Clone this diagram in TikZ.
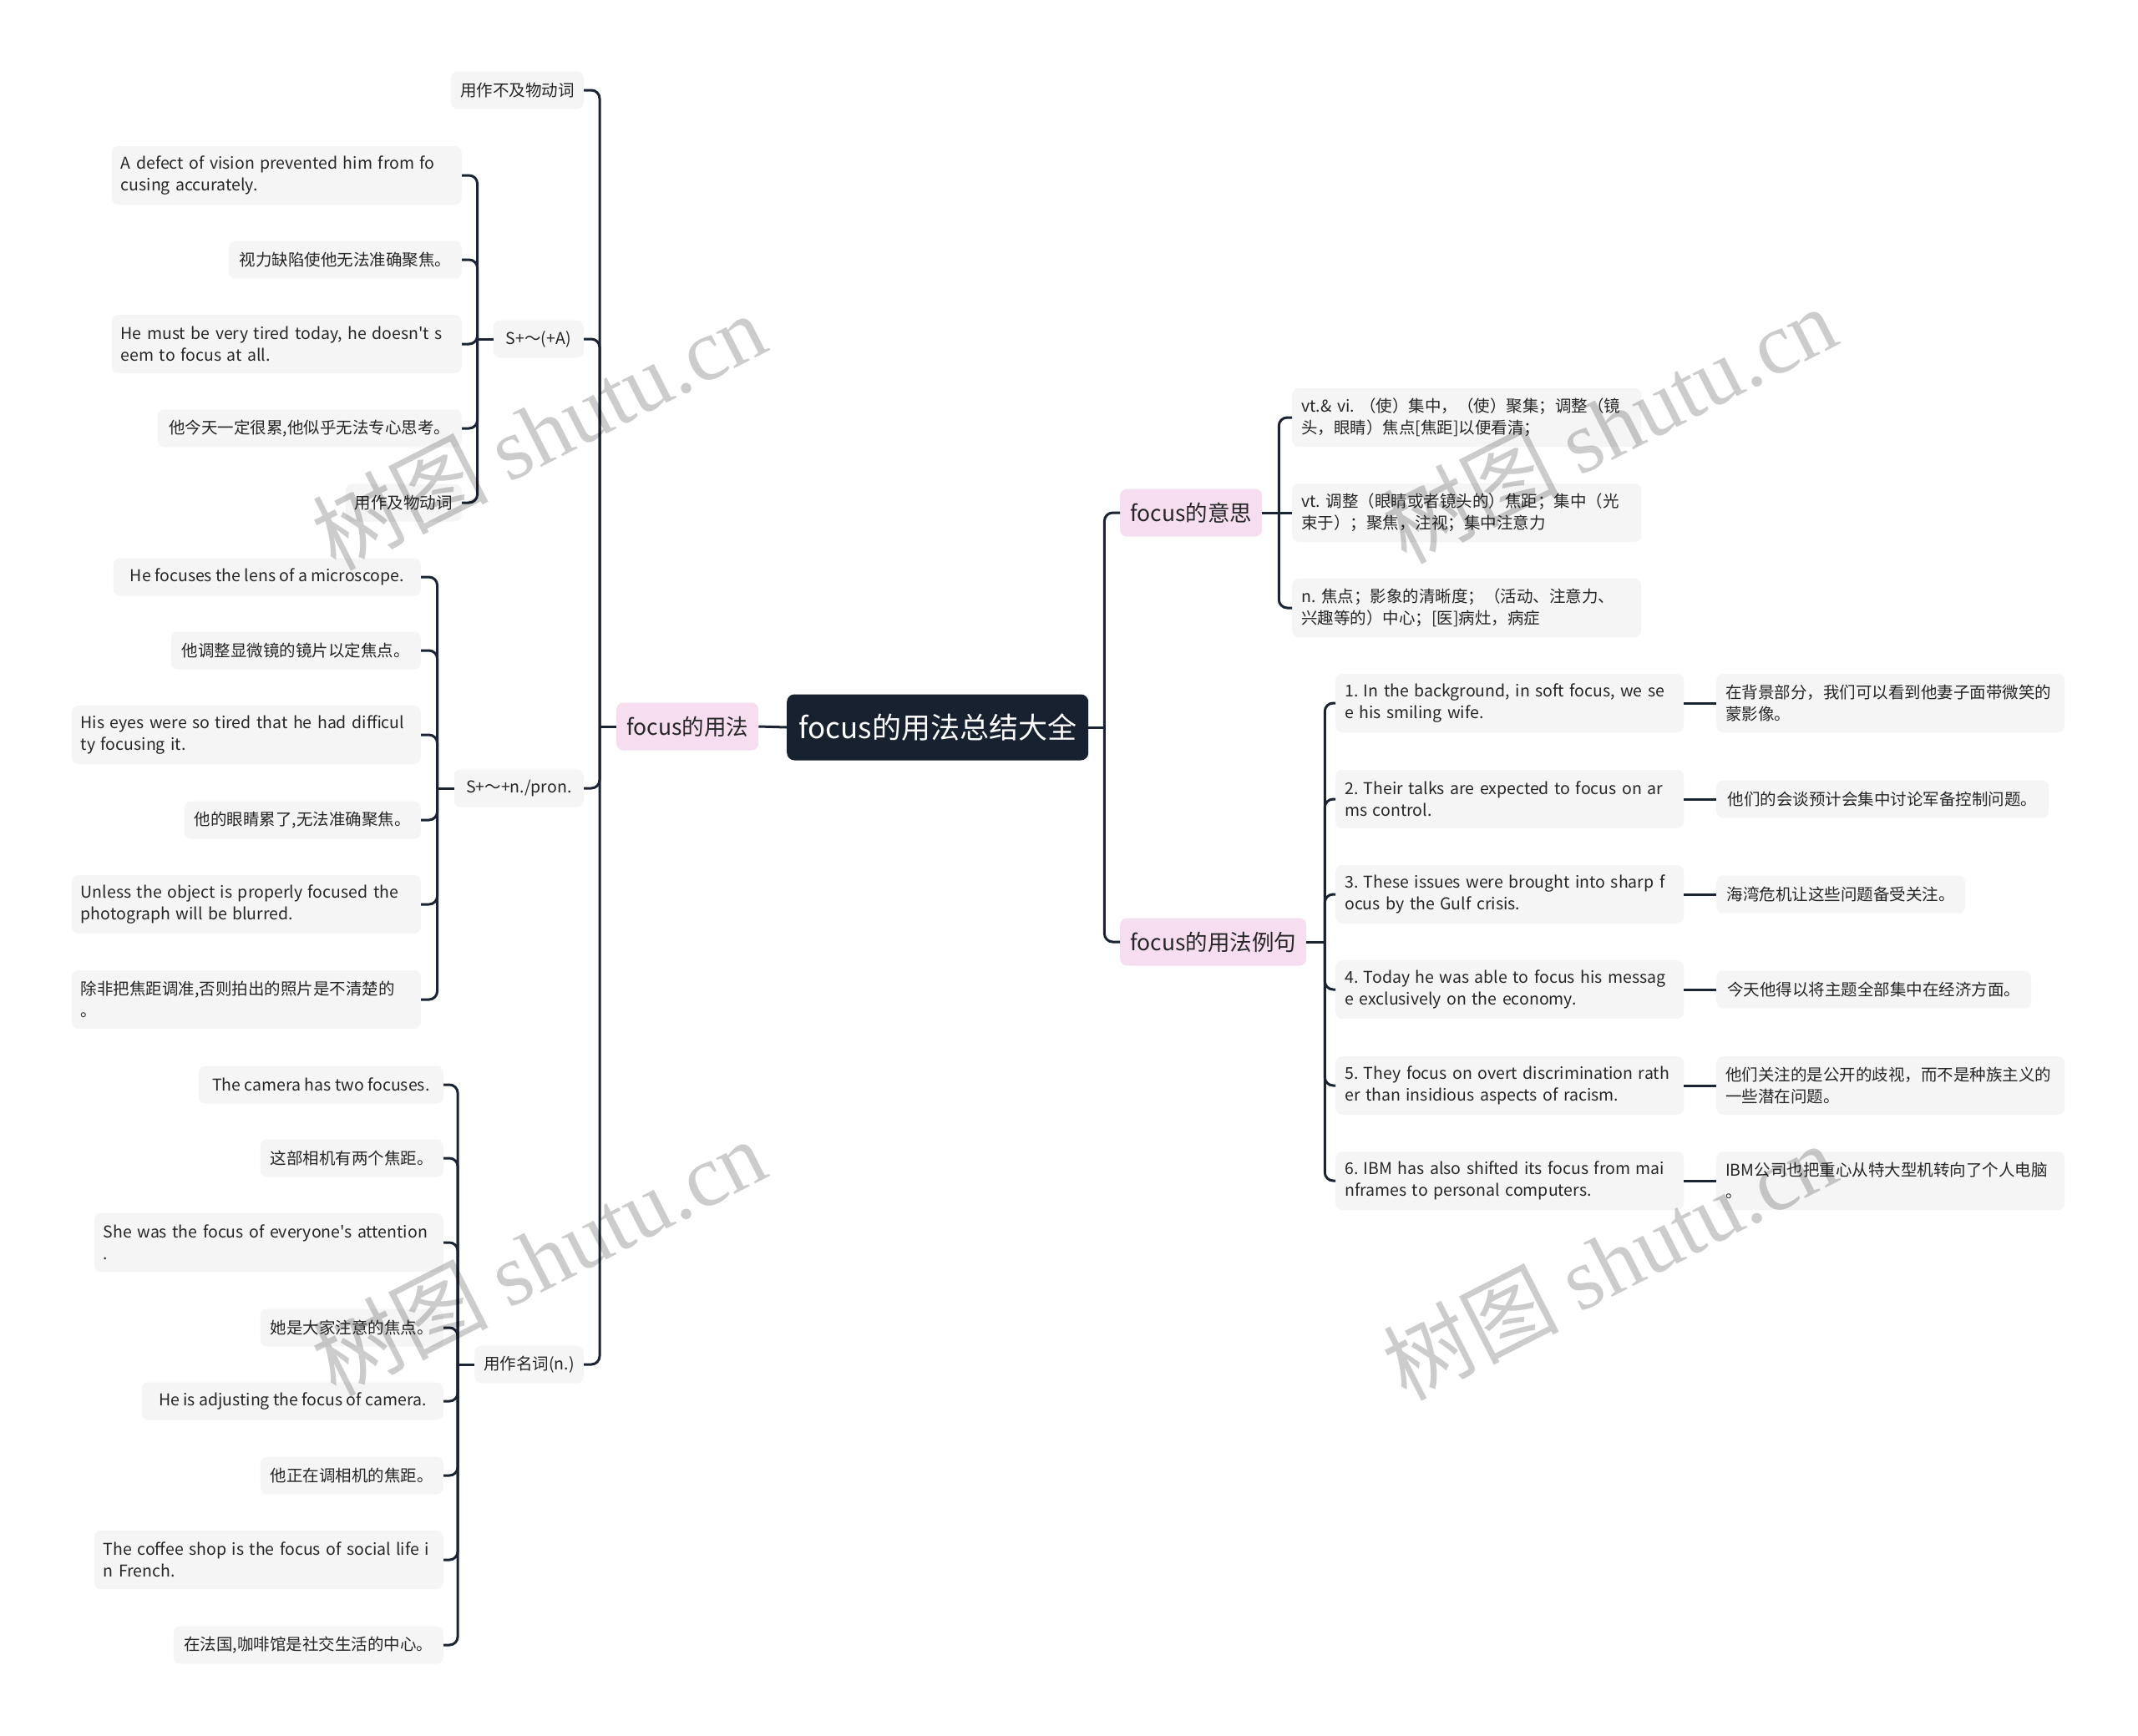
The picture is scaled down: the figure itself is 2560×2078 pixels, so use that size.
\documentclass[tikz,border=0pt]{standalone}
\usepackage{fontspec}
\setmainfont{Noto Sans CJK SC}[Ligatures=TeXOff]
\newfontfamily\wmserif{Liberation Serif}
\usetikzlibrary{calc}
\definecolor{linec}{HTML}{1B2432}
\definecolor{rootc}{HTML}{17212F}
\definecolor{pinkc}{HTML}{F6DEF0}
\definecolor{boxc}{HTML}{F5F5F5}
\definecolor{txtc}{HTML}{262626}
\frenchspacing
\tikzset{
  leaf/.style={fill=boxc, rounded corners=8pt, inner xsep=11pt, inner ysep=6pt,
    minimum height=45pt, text=txtc, font=\fontsize{19.5}{26}\selectfont,
    execute at begin node={\hyphenpenalty=10000\exhyphenpenalty=10000}},
  leaftwo/.style={leaf, minimum height=70pt, align=left, text width=#1},
  mainb/.style={fill=pinkc, rounded corners=8pt, minimum height=57pt, inner xsep=12pt,
    text=txtc, font=\fontsize{26.5}{32}\selectfont},
  rootb/.style={fill=rootc, rounded corners=9pt, minimum height=79pt, minimum width=361pt,
    text=white, font=\fontsize{35}{42}\selectfont},
  conn/.style={draw=linec, line width=3pt, rounded corners=10pt},
  wmark/.style={text=black, text opacity=0.2, rotate=27, inner sep=0pt,
    font=\fontsize{105}{105}\selectfont}
}
\begin{document}
\begin{tikzpicture}[x=1pt, y=-1pt]
\fill[white] (0,0) rectangle (2560,2078);
\useasboundingbox (0,0) rectangle (2560,2078);

% root and main branches
\node[rootb, anchor=west] (root) at (942,871) {focus的用法总结大全};
\node[mainb, anchor=west, minimum width=165pt] (use) at (738,870) {focus的用法};
\node[mainb, anchor=west, minimum width=168pt] (mean) at (1341,614) {focus的意思};
\node[mainb, anchor=west, minimum width=218pt] (exa) at (1341,1128) {focus的用法例句};

% left sub branches
\node[leaf, anchor=east, minimum width=159pt] (n1) at (699,108) {用作不及物动词};
\node[leaf, anchor=east, minimum width=108pt] (s1) at (699,406) {S+～(+A)};
\node[leaf, anchor=east, minimum width=155pt] (s2) at (699,944) {S+～+n./pron.};
\node[leaf, anchor=east, minimum width=130pt] (s3) at (699,1634) {用作名词(n.)};

% group 1
\node[leaftwo=397pt, anchor=east] (c11) at (553,210) {A defect of vision prevented him from fo\\cusing accurately.};
\node[leaf, anchor=east, minimum width=279pt] (c12) at (553,311) {视力缺陷使他无法准确聚焦。};
\node[leaftwo=397pt, anchor=east] (c13) at (553,412) {He must be very tired today, he doesn't s\\eem to focus at all.};
\node[leaf, anchor=east, minimum width=364pt] (c14) at (553,513) {他今天一定很累,他似乎无法专心思考。};
\node[leaf, anchor=east, minimum width=138pt] (c15) at (553,602) {用作及物动词};

% group 2
\node[leaf, anchor=east, minimum width=368pt] (c21) at (504,691) {He focuses the lens of a microscope.};
\node[leaf, anchor=east, minimum width=299pt] (c22) at (504,779) {他调整显微镜的镜片以定焦点。};
\node[leaftwo=396pt, anchor=east] (c23) at (504,880) {His eyes were so tired that he had difficul\\ty focusing it.};
\node[leaf, anchor=east, minimum width=283pt] (c24) at (504,982) {他的眼睛累了,无法准确聚焦。};
\node[leaftwo=396pt, anchor=east] (c25) at (504,1083) {Unless the object is properly focused the\\photograph will be blurred.};
\node[leaftwo=396pt, anchor=east] (c26) at (504,1197) {除非把焦距调准,否则拍出的照片是不清楚的\\。};

% group 3
\node[leaf, anchor=east, minimum width=293pt] (c31) at (531,1299) {The camera has two focuses.};
\node[leaf, anchor=east, minimum width=219pt] (c32) at (531,1387) {这部相机有两个焦距。};
\node[leaftwo=396pt, anchor=east] (c33) at (531,1488) {She was the focus of everyone's attention\\.};
\node[leaf, anchor=east, minimum width=219pt] (c34) at (531,1590) {她是大家注意的焦点。};
\node[leaf, anchor=east, minimum width=361pt] (c35) at (531,1678) {He is adjusting the focus of camera.};
\node[leaf, anchor=east, minimum width=219pt] (c36) at (531,1767) {他正在调相机的焦距。};
\node[leaftwo=396pt, anchor=east] (c37) at (531,1868) {The coffee shop is the focus of social life i\\n French.};
\node[leaf, anchor=east, minimum width=323pt] (c38) at (531,1970) {在法国,咖啡馆是社交生活的中心。};

% meanings
\node[leaftwo=396pt, anchor=west] (m1) at (1547,500) {vt.\& vi. （使）集中，（使）聚集；调整（镜\\头，眼睛）焦点[焦距]以便看清；};
\node[leaftwo=396pt, anchor=west] (m2) at (1547,614) {vt. 调整（眼睛或者镜头的）焦距；集中（光\\束于）；聚焦，注视；集中注意力};
\node[leaftwo=396pt, anchor=west] (m3) at (1547,728) {n. 焦点；影象的清晰度；（活动、注意力、\\兴趣等的）中心；[医]病灶，病症};

% examples
\node[leaftwo=395pt, anchor=west] (e1) at (1599,842) {1. In the background, in soft focus, we se\\e his smiling wife.};
\node[leaftwo=395pt, anchor=west] (e2) at (1599,957) {2. Their talks are expected to focus on ar\\ms control.};
\node[leaftwo=395pt, anchor=west] (e3) at (1599,1071) {3. These issues were brought into sharp f\\ocus by the Gulf crisis.};
\node[leaftwo=395pt, anchor=west] (e4) at (1599,1185) {4. Today he was able to focus his messag\\e exclusively on the economy.};
\node[leaftwo=395pt, anchor=west] (e5) at (1599,1300) {5. They focus on overt discrimination rath\\er than insidious aspects of racism.};
\node[leaftwo=395pt, anchor=west] (e6) at (1599,1414) {6. IBM has also shifted its focus from mai\\nframes to personal computers.};

% translations
\node[leaftwo=395pt, anchor=west] (t1) at (2055,842) {在背景部分，我们可以看到他妻子面带微笑的\\蒙影像。};
\node[leaf, anchor=west, minimum width=398pt] (t2) at (2055,957) {他们的会谈预计会集中讨论军备控制问题。};
\node[leaf, anchor=west, minimum width=298pt] (t3) at (2055,1071) {海湾危机让这些问题备受关注。};
\node[leaf, anchor=west, minimum width=377pt] (t4) at (2055,1185) {今天他得以将主题全部集中在经济方面。};
\node[leaftwo=395pt, anchor=west] (t5) at (2055,1300) {他们关注的是公开的歧视，而不是种族主义的\\一些潜在问题。};
\node[leaftwo=395pt, anchor=west] (t6) at (2055,1414) {IBM公司也把重心从特大型机转向了个人电脑\\。};

% junction points
\coordinate (jL) at ([xshift=-20pt]use.west);
\coordinate (jR) at ([xshift=19pt]root.east);
\coordinate (j1) at ([xshift=-19pt]s1.west);
\coordinate (j2) at ([xshift=-20pt]s2.west);
\coordinate (j3) at ([xshift=-20pt]s3.west);
\coordinate (jm) at ([xshift=20pt]mean.east);
\coordinate (je) at ([xshift=22pt]exa.east);

% connectors
\draw[conn] (root.west) -- (use.east);
\draw[conn] (use.west) -- (jL);
\foreach \c in {n1,s1,s2,s3} \draw[conn] (jL) |- (\c.east);
\draw[conn] (root.east) -- (jR);
\foreach \c in {mean,exa} \draw[conn] (jR) |- (\c.west);

\draw[conn] (s1.west) -- (j1);
\foreach \c in {c11,c12,c13,c14,c15} \draw[conn] (j1) |- (\c.east);
\draw[conn] (s2.west) -- (j2);
\foreach \c in {c21,c22,c23,c24,c25,c26} \draw[conn] (j2) |- (\c.east);
\draw[conn] (s3.west) -- (j3);
\foreach \c in {c31,c32,c33,c34,c35,c36,c37,c38} \draw[conn] (j3) |- (\c.east);

\draw[conn] (mean.east) -- (jm);
\foreach \c in {m1,m3} \draw[conn] (jm) |- (\c.west);
\draw[conn] (jm) -- (m2.west);
\draw[conn] (exa.east) -- (je);
\foreach \c in {e1,e2,e3,e4,e5,e6} \draw[conn] (je) |- (\c.west);
\draw[conn] (e1.east) -- (t1.west);
\draw[conn] (e2.east) -- (t2.west);
\draw[conn] (e3.east) -- (t3.west);
\draw[conn] (e4.east) -- (t4.west);
\draw[conn] (e5.east) -- (t5.west);
\draw[conn] (e6.east) -- (t6.west);

% watermarks
\node[wmark] (wm1) at (645,516) {树图 {\wmserif shutu.cn}};
\node[wmark] (wm2) at (1927,508) {树图 {\wmserif shutu.cn}};
\node[wmark] (wm3) at (645,1505) {树图 {\wmserif shutu.cn}};
\node[wmark] (wm4) at (1927,1510) {树图 {\wmserif shutu.cn}};
\end{tikzpicture}
\end{document}
